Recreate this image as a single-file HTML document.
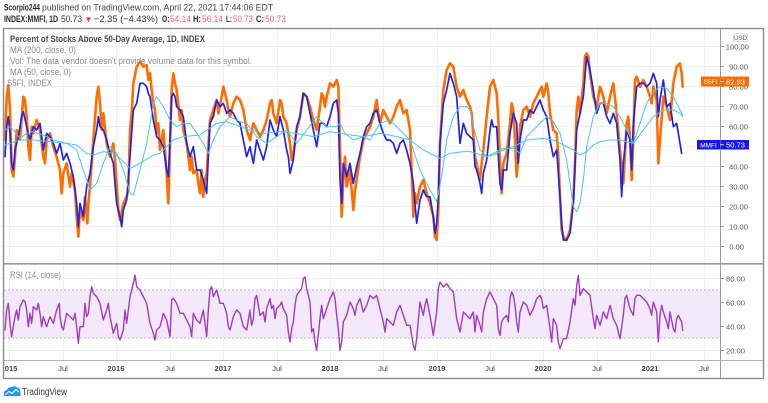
<!DOCTYPE html>
<html>
<head>
<meta charset="utf-8">
<style>
html,body{margin:0;padding:0;background:#fff;}
body{width:768px;height:403px;overflow:hidden;}
svg{display:block;font-family:"Liberation Sans",sans-serif;}
.ln{fill:none;stroke-linejoin:round;stroke-linecap:round;}
</style>
</head>
<body>
<svg width="768" height="403" viewBox="0 0 768 403" xmlns="http://www.w3.org/2000/svg">
<defs>
  <clipPath id="mainClip"><rect x="4" y="29" width="716" height="234"/></clipPath>
  <clipPath id="rsiClip"><rect x="4" y="265" width="716" height="95"/></clipPath>
</defs>
<rect x="0" y="0" width="768" height="403" fill="#fff"/>

<!-- header -->
<text x="4" y="10.5" font-size="9.5" font-weight="bold" fill="#2a2a2a" textLength="36" lengthAdjust="spacingAndGlyphs">Scorpio244</text>
<text x="42" y="10.5" font-size="9.5" fill="#444" textLength="231" lengthAdjust="spacingAndGlyphs">published on TradingView.com, April 22, 2021 17:44:06 EDT</text>

<text x="4" y="22" font-size="9.5" font-weight="bold" fill="#2a2a2a" textLength="54" lengthAdjust="spacingAndGlyphs">INDEX:MMFI, 1D</text>
<text x="61" y="22" font-size="9.5" fill="#333" textLength="21" lengthAdjust="spacingAndGlyphs">50.73</text>
<text x="84.5" y="22" font-size="8" fill="#f23645">▼</text>
<text x="94" y="22" font-size="9.5" fill="#333" textLength="64" lengthAdjust="spacingAndGlyphs">−2.35 (−4.43%)</text>
<text x="162" y="22" font-size="9.5" font-weight="bold" fill="#2a2a2a" textLength="7.5" lengthAdjust="spacingAndGlyphs">O:</text>
<text x="170" y="22" font-size="9.5" fill="#f2626e" textLength="21" lengthAdjust="spacingAndGlyphs">54.14</text>
<text x="193" y="22" font-size="9.5" font-weight="bold" fill="#2a2a2a" textLength="8" lengthAdjust="spacingAndGlyphs">H:</text>
<text x="202" y="22" font-size="9.5" fill="#f2626e" textLength="21" lengthAdjust="spacingAndGlyphs">56.14</text>
<text x="226" y="22" font-size="9.5" font-weight="bold" fill="#2a2a2a" textLength="6" lengthAdjust="spacingAndGlyphs">L:</text>
<text x="233" y="22" font-size="9.5" fill="#f2626e" textLength="20" lengthAdjust="spacingAndGlyphs">50.73</text>
<text x="256" y="22" font-size="9.5" font-weight="bold" fill="#2a2a2a" textLength="8" lengthAdjust="spacingAndGlyphs">C:</text>
<text x="265" y="22" font-size="9.5" fill="#f2626e" textLength="21" lengthAdjust="spacingAndGlyphs">50.73</text>

<!-- RSI band -->
<rect x="4" y="290" width="716" height="48" fill="#f4e8fc"/>

<!-- horizontal grid main -->
<g stroke="#efefef" stroke-width="1">
  <line x1="4" y1="46.5" x2="720" y2="46.5"/>
  <line x1="4" y1="66.5" x2="720" y2="66.5"/>
  <line x1="4" y1="86.5" x2="720" y2="86.5"/>
  <line x1="4" y1="106.5" x2="720" y2="106.5"/>
  <line x1="4" y1="126.5" x2="720" y2="126.5"/>
  <line x1="4" y1="146.5" x2="720" y2="146.5"/>
  <line x1="4" y1="166.5" x2="720" y2="166.5"/>
  <line x1="4" y1="186.5" x2="720" y2="186.5"/>
  <line x1="4" y1="206.5" x2="720" y2="206.5"/>
  <line x1="4" y1="226.5" x2="720" y2="226.5"/>
  <line x1="4" y1="246.5" x2="720" y2="246.5"/>
  <line x1="4" y1="278.5" x2="720" y2="278.5"/>
  <line x1="4" y1="302.5" x2="720" y2="302.5"/>
  <line x1="4" y1="326.5" x2="720" y2="326.5"/>
  <line x1="4" y1="350.5" x2="720" y2="350.5"/>
</g>
<!-- vertical grid -->
<g stroke="#efefef" stroke-width="1">
  <line x1="9.5" y1="29" x2="9.5" y2="360"/>
  <line x1="63.5" y1="29" x2="63.5" y2="360"/>
  <line x1="116.5" y1="29" x2="116.5" y2="360"/>
  <line x1="170.5" y1="29" x2="170.5" y2="360"/>
  <line x1="223.5" y1="29" x2="223.5" y2="360"/>
  <line x1="277.5" y1="29" x2="277.5" y2="360"/>
  <line x1="330.5" y1="29" x2="330.5" y2="360"/>
  <line x1="383.5" y1="29" x2="383.5" y2="360"/>
  <line x1="437.5" y1="29" x2="437.5" y2="360"/>
  <line x1="490.5" y1="29" x2="490.5" y2="360"/>
  <line x1="543.5" y1="29" x2="543.5" y2="360"/>
  <line x1="597.5" y1="29" x2="597.5" y2="360"/>
  <line x1="650.5" y1="29" x2="650.5" y2="360"/>
  <line x1="704.5" y1="29" x2="704.5" y2="360"/>
</g>

<!-- RSI band edges -->
<line x1="4" y1="290" x2="720" y2="290" stroke="#bfb3cc" stroke-width="1" stroke-dasharray="2,2"/>
<line x1="4" y1="338" x2="720" y2="338" stroke="#bfb3cc" stroke-width="1" stroke-dasharray="2,2"/>

<!-- main series -->
<g clip-path="url(#mainClip)">
  <!-- S5FI orange -->
  <g class="ln" stroke="#ff6d00" stroke-width="2.6">
    <polyline vector-effect="non-scaling-stroke" transform="translate(0,30) scale(0.33333)" points="15,330 20,200 25,165 30,240 35,420 40,440 45,380 50,300 60,330 70,200 75,210 80,260 85,350 90,390 95,290 100,310 110,270 120,300 130,380 135,400 140,330 150,310 160,350 170,380 180,420 185,490 190,430 200,400 210,470 215,430 225,480 230,560 235,620 240,540 250,570 255,500 262,580 265,520 270,470 280,330 290,200 295,170 300,220 305,300 310,250 320,340 330,380 340,340 345,390 350,460 355,540 360,570 370,520 380,500 385,480 390,300 395,250 400,160 410,110 420,95 430,110 440,105 445,150 450,130 455,180 460,220 465,240 470,310 475,280 480,360 490,300 500,430 505,520 510,350 515,180 520,130 525,160 530,180 540,270 545,240 550,300 560,340 570,420 575,380 580,430 590,420 595,460 600,490 605,420 610,500 615,450 620,430 630,270 640,240 650,210 655,250 665,200 670,170 680,210 685,240 690,260 700,220 710,200 720,210"/>
    <polyline vector-effect="non-scaling-stroke" transform="translate(230,30) scale(0.33333)" points="30,210 40,240 50,300 60,330 70,280 80,300 90,320 100,300 110,270 120,220 125,210 130,250 140,280 150,210 155,220 160,260 170,280 180,340 185,390 190,370 200,300 210,260 220,190 230,200 240,230 250,270 260,300 270,230 275,190 280,200 285,230 290,200 300,160 310,170 320,150 325,170 330,350 335,560 340,450 345,380 350,470 360,420 370,540 375,480 380,450 390,380 400,330 410,310 420,290 430,260 440,210 445,250 450,280 460,240 470,260 480,280 490,260 500,230 510,210 520,250 530,240 540,300 545,420 550,560 555,490 560,520 570,470 580,450 590,490 600,520 610,560 615,620 620,630 625,540 630,340 640,180 650,120 660,100 670,110 680,170 690,200 700,180 710,210 720,230"/>
    <polyline vector-effect="non-scaling-stroke" transform="translate(460,30) scale(0.33333)" points="30,230 35,250 45,380 50,400 55,430 60,450 65,400 70,360 80,260 90,170 100,150 110,190 115,270 120,400 125,490 130,400 140,370 150,280 155,220 160,240 165,330 170,440 175,380 180,290 190,240 200,230 210,260 220,220 230,200 240,180 245,170 250,200 260,160 265,190 270,250 280,300 290,310 295,380 300,500 305,600 310,620 320,630 330,600 340,510 345,400 350,240 355,200 360,250 370,160 375,80 380,70 385,80 390,130 400,200 410,230 420,170 430,200 440,250 450,200 460,160 470,250 480,360 490,460 500,280 505,260 510,320 515,450 520,330 525,150 530,140 540,170 550,150 560,170 570,200 575,220 580,170 590,210 595,400 600,330 610,200 620,230 630,270 640,160 650,110 660,100 665,130 668,170"/>
  </g>
  <!-- MMFI blue -->
  <g class="ln" stroke="#2323e8" stroke-width="1.7">
    <polyline vector-effect="non-scaling-stroke" transform="translate(0,30) scale(0.33333)" points="15,380 20,290 25,260 30,310 35,400 40,420 45,360 55,320 65,260 70,245 80,290 90,330 100,290 110,300 120,280 130,360 140,310 150,320 160,340 170,370 180,340 190,390 200,370 210,400 220,440 230,520 235,590 240,520 250,560 260,470 270,430 280,350 290,300 295,260 300,290 310,300 320,330 330,370 340,400 350,520 360,560 365,590 370,540 380,510 390,380 400,240 410,220 420,160 430,160 440,170 445,190 450,200 460,270 470,320 480,330 490,350 500,420 505,440 510,330 515,200 520,190 525,200 530,230 540,240 550,260 560,340 570,380 580,350 590,420 600,420 610,450 620,490 625,380 630,280 640,260 650,210 660,230 670,220 680,250 690,240 700,250 710,270 720,280"/>
    <polyline vector-effect="non-scaling-stroke" transform="translate(230,30) scale(0.33333)" points="30,280 40,330 50,380 60,350 70,400 80,330 90,360 100,390 110,350 120,270 130,300 140,320 150,260 160,300 170,360 175,380 180,430 190,390 200,290 210,260 220,190 230,200 240,250 250,300 260,350 270,280 280,280 290,290 300,260 310,220 320,210 325,250 330,450 335,520 340,400 350,440 360,400 370,460 380,410 390,370 400,320 410,290 420,280 430,250 440,240 450,280 460,310 470,330 480,330 490,340 500,370 510,340 520,330 530,360 540,400 550,460 555,520 560,580 570,510 580,480 590,500 600,500 610,560 615,610 620,580 625,500 630,340 640,220 650,180 660,130 670,160 680,200 690,340 700,280 710,310 720,320"/>
    <polyline vector-effect="non-scaling-stroke" transform="translate(460,30) scale(0.33333)" points="30,320 40,330 45,410 50,420 60,460 65,490 70,430 80,390 90,300 95,270 100,290 110,290 115,380 120,460 125,480 130,420 140,420 150,310 160,250 170,280 175,400 180,330 190,270 200,270 210,240 220,250 230,230 240,210 250,240 260,260 270,330 280,380 290,360 300,500 305,580 310,630 320,630 330,610 340,520 350,300 360,250 370,200 380,80 390,120 400,180 410,250 420,220 430,220 440,260 450,280 460,250 470,280 480,390 485,500 490,400 500,300 510,330 515,420 520,280 530,170 540,160 550,160 560,170 570,160 580,130 590,160 595,260 600,210 610,150 620,230 630,220 640,290 650,280 660,340 665,370"/>
  </g>
  <!-- MA lines -->
  <g class="ln" stroke="#4cc3ee" stroke-width="1">
    <polyline vector-effect="non-scaling-stroke" transform="translate(0,30) scale(0.33333)" points="15,345 30,340 60,330 100,330 150,335 200,340 230,345 260,370 280,375 310,365 340,370 360,385 390,415 420,400 460,375 480,370 500,350 520,330 550,320 600,315 650,280 680,275 720,290"/>
    <polyline vector-effect="non-scaling-stroke" transform="translate(230,30) scale(0.33333)" points="30,290 60,300 100,310 150,305 200,310 250,320 300,305 330,310 360,315 400,320 450,310 500,320 540,330 580,360 630,385 660,370 700,365 720,365"/>
    <polyline vector-effect="non-scaling-stroke" transform="translate(460,30) scale(0.33333)" points="30,365 80,380 100,375 130,360 160,350 200,330 250,325 280,330 300,340 340,360 360,375 380,365 400,345 420,335 450,330 480,330 520,340 550,300 580,260 610,240 640,240 660,250 668,260"/>
    <polyline vector-effect="non-scaling-stroke" transform="translate(0,30) scale(0.33333)" points="15,300 30,290 40,300 60,325 80,310 100,305 130,315 160,330 200,340 230,360 250,420 270,480 290,460 310,400 330,350 350,370 370,420 390,490 400,495 420,420 440,340 460,220 470,200 490,230 510,270 530,290 550,280 570,280 590,310 610,340 625,370 640,330 660,290 690,260 720,275"/>
    <polyline vector-effect="non-scaling-stroke" transform="translate(230,30) scale(0.33333)" points="30,275 50,280 80,320 110,340 140,320 170,300 200,340 230,300 260,260 290,290 320,290 330,280 345,310 370,330 400,320 420,330 450,280 480,270 510,300 540,330 570,420 600,480 620,515 635,440 650,330 670,260 690,230 710,230 720,240"/>
    <polyline vector-effect="non-scaling-stroke" transform="translate(460,30) scale(0.33333)" points="30,240 40,290 60,360 80,380 100,370 130,355 160,355 180,370 200,320 230,290 260,260 280,275 300,310 320,390 340,530 350,545 360,520 370,450 380,350 400,260 420,220 440,220 460,230 480,260 500,300 520,340 540,280 560,220 580,185 600,170 620,175 640,200 660,240 668,255"/>
  </g>
</g>

<!-- RSI series -->
<g clip-path="url(#rsiClip)" class="ln" stroke="#a23bc2" stroke-width="1.4">
  <polyline vector-effect="non-scaling-stroke" transform="translate(0,260) scale(0.33333)" points="15,210 20,150 25,130 30,190 35,230 40,200 45,170 50,150 55,180 60,140 65,130 70,120 75,125 80,150 85,200 90,160 95,190 100,140 110,150 115,130 120,160 125,200 130,170 140,200 150,170 160,190 170,150 178,130 180,170 185,200 190,210 200,160 210,170 220,180 225,160 230,200 235,250 240,200 250,200 255,130 260,170 265,160 270,110 275,80 280,100 290,110 300,130 310,180 320,150 325,130 330,170 340,220 350,190 355,230 360,240 370,210 375,150 380,190 390,110 400,70 405,45 410,80 420,90 430,110 440,130 450,190 460,220 465,240 470,210 480,200 490,160 500,180 510,230 515,120 520,115 530,130 540,160 550,160 560,180 570,200 575,230 580,160 590,180 600,190 610,150 620,230 625,150 630,90 635,80 640,110 650,90 660,130 670,130 680,160 685,200 690,210 700,170 710,150 720,160 730,200 740,210 750,150"/>
  <polyline vector-effect="non-scaling-stroke" transform="translate(240,262) scale(0.33333)" points="30,150 35,190 40,170 45,110 50,100 55,130 60,160 70,150 75,180 80,140 90,110 95,140 100,130 105,170 110,140 120,130 125,120 130,140 140,160 145,210 150,240 155,200 160,180 165,130 170,100 180,85 185,80 190,50 195,45 200,80 210,120 215,210 220,200 225,240 230,265 240,170 245,130 250,170 260,140 270,110 275,100 280,90 285,110 290,160 295,200 300,265 305,240 310,180 320,160 330,120 340,140 345,160 350,130 360,110 370,150 380,130 390,100 400,110 410,100 420,140 430,180 435,210 440,170 450,180 460,190 470,150 480,130 490,160 500,190 510,190 520,250 525,265 530,230 540,120 550,160 555,130 560,110 570,160 580,220 590,150 595,80 600,60 610,75 620,65 630,80 640,90 650,170 660,210 670,150 680,160 690,170"/>
  <polyline vector-effect="non-scaling-stroke" transform="translate(460,262) scale(0.33333)" points="30,170 40,150 45,210 50,160 60,190 65,210 70,150 80,110 90,90 95,100 100,110 110,130 115,200 120,220 125,180 130,170 140,160 145,180 150,110 155,90 160,100 165,130 170,180 175,210 180,150 190,120 200,130 210,160 220,140 230,110 240,100 245,110 250,140 260,130 270,200 275,240 280,170 290,190 295,240 300,260 310,230 320,230 330,180 340,110 345,130 350,70 355,40 360,100 370,80 380,90 390,100 400,170 405,200 410,160 420,190 430,150 440,170 450,130 460,170 470,190 480,230 490,160 495,110 500,100 510,140 520,160 525,110 530,100 540,100 550,110 560,120 570,140 575,160 580,120 590,150 595,240 600,160 605,130 610,150 620,180 625,200 630,150 640,200 645,210 650,170 655,160 660,170 665,180 668,205"/>
</g>

<!-- legend -->
<text x="10" y="42" font-size="9" font-weight="bold" fill="#4a4a4a" textLength="195" lengthAdjust="spacingAndGlyphs">Percent of Stocks Above 50-Day Average, 1D, INDEX</text>
<text x="10" y="53" font-size="9" fill="#8a8a8a" textLength="66" lengthAdjust="spacingAndGlyphs">MA (200, close, 0)</text>
<text x="10" y="64" font-size="9" fill="#8a8a8a" textLength="242" lengthAdjust="spacingAndGlyphs">Vol: The data vendor doesn't provide volume data for this symbol.</text>
<text x="10" y="75" font-size="9" fill="#8a8a8a" textLength="61" lengthAdjust="spacingAndGlyphs">MA (50, close, 0)</text>
<text x="7" y="86" font-size="9" fill="#8a8a8a" textLength="45" lengthAdjust="spacingAndGlyphs">S5FI, INDEX</text>
<text x="10" y="278" font-size="9" fill="#8a8a8a" textLength="51" lengthAdjust="spacingAndGlyphs">RSI (14, close)</text>

<!-- axes lines -->
<line x1="720.5" y1="29" x2="720.5" y2="378" stroke="#9a9a9a" stroke-width="1"/>
<line x1="4" y1="263.8" x2="763" y2="263.8" stroke="#999" stroke-width="1.6"/>
<line x1="4" y1="360.5" x2="763" y2="360.5" stroke="#b5b5b5" stroke-width="1"/>

<!-- price axis ticks & labels -->
<g stroke="#999" stroke-width="1">
  <line x1="720" y1="46.5" x2="724" y2="46.5"/>
  <line x1="720" y1="66.5" x2="724" y2="66.5"/>
  <line x1="720" y1="86.5" x2="724" y2="86.5"/>
  <line x1="720" y1="106.5" x2="724" y2="106.5"/>
  <line x1="720" y1="126.5" x2="724" y2="126.5"/>
  <line x1="720" y1="146.5" x2="724" y2="146.5"/>
  <line x1="720" y1="166.5" x2="724" y2="166.5"/>
  <line x1="720" y1="186.5" x2="724" y2="186.5"/>
  <line x1="720" y1="206.5" x2="724" y2="206.5"/>
  <line x1="720" y1="226.5" x2="724" y2="226.5"/>
  <line x1="720" y1="246.5" x2="724" y2="246.5"/>
  <line x1="720" y1="278.5" x2="724" y2="278.5"/>
  <line x1="720" y1="302.5" x2="724" y2="302.5"/>
  <line x1="720" y1="326.5" x2="724" y2="326.5"/>
  <line x1="720" y1="350.5" x2="724" y2="350.5"/>
</g>
<g font-size="7.6" fill="#555" text-anchor="end">
  <text x="749" y="49.5">100.00</text>
  <text x="748" y="69.5">90.00</text>
  <text x="748" y="89.5">80.00</text>
  <text x="748" y="109.5">70.00</text>
  <text x="748" y="129.5">60.00</text>
  <text x="748" y="149.5">50.00</text>
  <text x="748" y="169.5">40.00</text>
  <text x="748" y="189.5">30.00</text>
  <text x="748" y="209.5">20.00</text>
  <text x="748" y="229.5">10.00</text>
  <text x="744" y="249.5">0.00</text>
  <text x="745" y="281.5">80.00</text>
  <text x="745" y="305.5">60.00</text>
  <text x="745" y="329.5">40.00</text>
  <text x="745" y="353.5">20.00</text>
</g>

<!-- USD box -->
<rect x="733.5" y="33.5" width="14" height="8" rx="2" fill="#fff" stroke="#ccc" stroke-width="0.8"/>
<text x="740.5" y="40" font-size="6.2" fill="#555" text-anchor="middle">USD</text>

<!-- S5FI tag -->
<rect x="701" y="76.5" width="19" height="10" fill="#ff6d00"/>
<text x="710.5" y="84" font-size="6.5" fill="#fff" text-anchor="middle">S5FI</text>
<rect x="720.5" y="76.5" width="28.5" height="10" fill="#ff6d00"/>
<line x1="720" y1="81.5" x2="724" y2="81.5" stroke="#fff" stroke-width="0.8"/>
<text x="735.5" y="84.3" font-size="7.6" fill="#fff" text-anchor="middle">82.93</text>

<!-- MMFI tag -->
<rect x="697" y="140" width="23" height="9.5" fill="#1616f0"/>
<text x="708.5" y="147.3" font-size="6.5" fill="#fff" text-anchor="middle">MMFI</text>
<rect x="720.5" y="140" width="28.5" height="9.5" fill="#1616f0"/>
<line x1="720" y1="144.8" x2="724" y2="144.8" stroke="#fff" stroke-width="0.8"/>
<text x="735.5" y="147.6" font-size="7.6" fill="#fff" text-anchor="middle">50.73</text>

<!-- time labels -->
<g font-size="7.6" fill="#444" text-anchor="middle">
  <text x="9" y="371" font-weight="bold">2015</text>
  <text x="63" y="371">Jul</text>
  <text x="116" y="371" font-weight="bold">2016</text>
  <text x="170" y="371">Jul</text>
  <text x="223" y="371" font-weight="bold">2017</text>
  <text x="277" y="371">Jul</text>
  <text x="330" y="371" font-weight="bold">2018</text>
  <text x="383" y="371">Jul</text>
  <text x="437" y="371" font-weight="bold">2019</text>
  <text x="490" y="371">Jul</text>
  <text x="543" y="371" font-weight="bold">2020</text>
  <text x="597" y="371">Jul</text>
  <text x="650" y="371" font-weight="bold">2021</text>
  <text x="704" y="371">Jul</text>
</g>
<rect x="0" y="360" width="3.3" height="20" fill="#fff"/>

<!-- frame -->
<rect x="3.5" y="28.5" width="760" height="350" fill="none" stroke="#8c8c8c" stroke-width="1.4"/>

<!-- TradingView logo -->
<g>
  <path d="M4,396 L4,393 Q4,390 7,390 Q8,386.5 12,387 Q14.5,385 17,387.5 Q20.5,388 20.5,392 L20.5,396 Z" fill="#2196f3"/>
  <polyline points="5.5,394.5 9,391.5 12,393.5 16,389.5 19,392" fill="none" stroke="#fff" stroke-width="1.1"/>
</g>
<text x="22" y="395" font-size="10" fill="#3a3a3a" textLength="45" lengthAdjust="spacingAndGlyphs">TradingView</text>
</svg>
</body>
</html>
